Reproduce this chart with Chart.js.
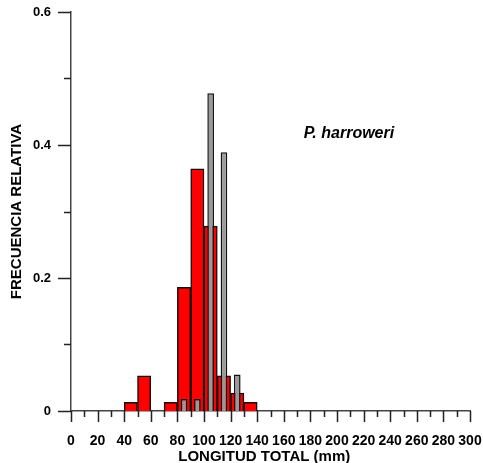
<!DOCTYPE html>
<html>
<head>
<meta charset="utf-8">
<script src="https://cdn.jsdelivr.net/npm/chart.js@4"></script>
<style>
  body { margin: 0; background: #fff; }
  canvas { display: block; }
</style>
</head>
<body>
<canvas id="grafico" width="483" height="463"></canvas>
<script>
// histograma de longitud total, P. harroweri
const centrosRojo = [45, 55, 65, 75, 85, 95, 105, 115, 125, 135];
const frecRojo = [0.013, 0.053, 0, 0.013, 0.186, 0.364, 0.278, 0.053, 0.027, 0.013];
const centrosGris = [85, 95, 105, 115, 125];
const frecGris = [0.018, 0.018, 0.478, 0.389, 0.055];
const marcasX = [0, 10, 20, 30, 40, 50, 60, 70, 80, 90, 100, 110, 120, 130, 140, 150, 160, 170, 180, 190, 200, 210, 220, 230, 240, 250, 260, 270, 280, 290, 300];
const marcasY = [0, 0.1, 0.2, 0.3, 0.4, 0.5, 0.6];
const especie = "P. harroweri";

const fuente = "'Liberation Sans', Arial, sans-serif";

function pares(xs, ys) {
    let d = [];
    for (let n = 0; n < xs.length; n++) {
        d.push({x: xs[n], y: ys[n]});
    }
    return d;
}

// ticks mayores y menores + nombre de la especie
const marcas = {
    id: 'marcas',
    afterDraw(chart) {
        const ctx = chart.ctx;
        const ex = chart.scales.x, ey = chart.scales.y;
        ctx.save();
        ctx.strokeStyle = '#222';
        ctx.lineWidth = 1.5;
        ctx.beginPath();
        marcasX.forEach(v => {
            const px = Math.round(ex.getPixelForValue(v)) + 0.5;
            const largo = v % 20 === 0 ? 11 : 6;
            ctx.moveTo(px, ey.bottom);
            ctx.lineTo(px, ey.bottom + largo);
        });
        marcasY.forEach((v, k) => {
            const py = Math.round(ey.getPixelForValue(v)) + 0.5;
            const largo = k % 2 === 0 ? 13 : 7;
            ctx.moveTo(ex.left, py);
            ctx.lineTo(ex.left - largo, py);
        });
        ctx.stroke();
        ctx.fillStyle = '#000';
        ctx.font = "italic bold 16px " + fuente;
        ctx.textBaseline = 'middle';
        ctx.fillText(especie, ex.getPixelForValue(175), ey.getPixelForValue(0.417));
        ctx.restore();
    }
};

Chart.defaults.color = '#000';
Chart.defaults.font.family = fuente;

window.grafico = new Chart(document.getElementById("grafico"), {
    type: "bar",
    data: {
        datasets: [
            {
                label: "rojo",
                data: pares(centrosRojo, frecRojo),
                backgroundColor: "#ff0000",
                borderColor: "#111",
                borderWidth: 1.5,
                barPercentage: 1,
                categoryPercentage: 1,
                order: 2
            },
            {
                label: "gris",
                data: pares(centrosGris, frecGris),
                backgroundColor: "#999999",
                borderColor: "#111",
                borderWidth: 1.5,
                barPercentage: 0.5,
                categoryPercentage: 1,
                order: 1
            }
        ]
    },
    options: {
        responsive: false,
        animation: false,
        grouped: false,
        layout: { padding: { left: 0, right: 13, top: 12, bottom: 0 } },
        plugins: { legend: { display: false }, tooltip: { enabled: false } },
        scales: {
            x: {
                type: "linear",
                offset: false,
                min: 0,
                max: 300,
                grid: { display: false },
                border: { display: true, color: "#444", width: 1.5 },
                ticks: { stepSize: 20, padding: 14, maxRotation: 0, autoSkip: false,
                         font: { size: 14, weight: "bold" } },
                title: { display: true, text: "LONGITUD TOTAL (mm)   ",
                         font: { size: 15, weight: "bold", lineHeight: 1 },
                         padding: { top: 0, bottom: -1 } },
                afterFit(s) { s.height = 52; s.paddingLeft = 0; s.paddingRight = 0; }
            },
            y: {
                min: 0,
                max: 0.6,
                grid: { display: false },
                border: { display: true, color: "#444", width: 1.5 },
                ticks: { stepSize: 0.2, padding: 12, font: { size: 13, weight: "bold" } },
                title: { display: true, text: "FRECUENCIA RELATIVA",
                         font: { size: 15, weight: "bold", lineHeight: 1 },
                         padding: { top: 9, bottom: 0 } },
                afterFit(s) { s.width = 71; s.paddingTop = 0; s.paddingBottom = 0; }
            }
        }
    },
    plugins: [marcas]
});
</script>
</body>
</html>
